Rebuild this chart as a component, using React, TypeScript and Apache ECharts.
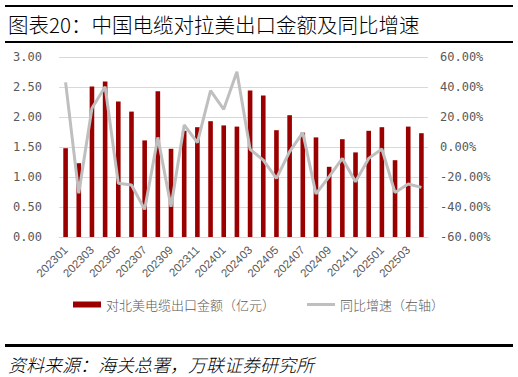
import React, { useEffect, useRef } from "react";
import * as echarts from "echarts";

const categories = [
  "202301","202302","202303","202304","202305","202306","202307","202308","202309","202310","202311","202312",
  "202401","202402","202403","202404","202405","202406","202407","202408","202409","202410","202411","202412",
  "202501","202502","202503","202504",
];
const exportValues = [
  1.48, 1.23, 2.51, 2.59, 2.26, 2.09, 1.61, 2.43, 1.47, 1.77, 1.83, 1.93,
  1.86, 1.84, 2.44, 2.36, 1.78, 2.03, 1.74, 1.66, 1.17, 1.63, 1.41, 1.77,
  1.83, 1.28, 1.84, 1.73,
];
const yoyValues = [
  43.1, -30.9, 25.8, 40.2, -24.2, -25.3, -41.6, 6.4, -39.8, 14.7, 2.9, 37.6,
  25.1, 50.2, -1.5, -8.7, -20.9, -3.1, 9.6, -31.3, -19.8, -7.6, -23.1, -7.6,
  -1.3, -30.4, -24.7, -26.9,
];
const barName = "对北美电缆出口金额（亿元）";
const lineName = "同比增速（右轴）";
const titleText = "图表20：中国电缆对拉美出口金额及同比增速";
const sourceText = "资料来源：海关总署，万联证券研究所";

export default function App() {
  const ref = useRef<HTMLDivElement>(null);
  useEffect(() => {
    if (!ref.current) return;
    const chart = echarts.init(ref.current, null, { renderer: "svg" });
    const labelColor = "#595959";
    chart.setOption({
      animation: false,
      backgroundColor: "#ffffff",
      grid: { left: 59, right: 90, top: 57, bottom: 140, containLabel: false },
      legend: {
        left: 68,
        top: 293,
        itemGap: 32,
        itemWidth: 28,
        itemHeight: 6,
        textStyle: { fontSize: 13, color: labelColor, fontFamily: "Noto Sans CJK SC", fontWeight: 300 },
        data: [
          { name: barName, icon: "rect" },
          { name: lineName, icon: "path://M0 0h28v3h-28z" },
        ],
      },
      xAxis: {
        type: "category",
        data: categories,
        axisTick: { show: false },
        axisLine: { lineStyle: { color: "#d9d9d9" } },
        axisLabel: {
          interval: 1,
          rotate: 45,
          fontSize: 11.5,
          color: labelColor,
          margin: 11,
          fontFamily: "Liberation Sans",
        },
      },
      yAxis: [
        {
          type: "value",
          min: 0,
          max: 3,
          interval: 0.5,
          axisLine: { show: false },
          axisTick: { show: false },
          splitLine: { lineStyle: { color: "#d9d9d9" } },
          axisLabel: {
            formatter: (v: number) => v.toFixed(2),
            fontSize: 12,
            color: labelColor,
            margin: 17,
            fontFamily: "DejaVu Sans Mono",
          },
        },
        {
          type: "value",
          min: -60,
          max: 60,
          interval: 20,
          axisLine: { show: false },
          axisTick: { show: false },
          splitLine: { show: false },
          axisLabel: {
            formatter: (v: number) => v.toFixed(2) + "%",
            fontSize: 12,
            color: labelColor,
            margin: 12,
            fontFamily: "DejaVu Sans Mono",
          },
        },
      ],
      series: [
        {
          name: barName,
          type: "bar",
          data: exportValues,
          barWidth: "35%",
          itemStyle: { color: "#9b0000" },
        },
        {
          name: lineName,
          type: "line",
          yAxisIndex: 1,
          data: yoyValues,
          symbol: "none",
          lineStyle: { color: "#bfbfbf", width: 3 },
          itemStyle: { color: "#bfbfbf" },
        },
      ],
      graphic: [
        { type: "rect", shape: { x: 5, y: 5, width: 508, height: 2 }, style: { fill: "#000" } },
        { type: "rect", shape: { x: 5, y: 41, width: 508, height: 2 }, style: { fill: "#000" } },
        {
          type: "text",
          x: 8,
          y: 24,
          style: {
            text: titleText,
            fontSize: 20.5,
            fontWeight: 300,
            fill: "#000",
            fontFamily: "Noto Sans CJK SC",
            verticalAlign: "middle",
          },
        },
        { type: "rect", shape: { x: 5, y: 344, width: 508, height: 3 }, style: { fill: "#000" } },
        {
          type: "text",
          x: 8,
          y: 364,
          style: {
            text: sourceText,
            fontSize: 18,
            fontWeight: 300,
            fontStyle: "italic",
            fill: "#000",
            fontFamily: "Noto Sans CJK SC",
            verticalAlign: "middle",
          },
        },
      ],
    });
    return () => chart.dispose();
  }, []);
  return (
    <div
      ref={ref}
      style={{ position: "fixed", left: 0, top: 0, width: 518, height: 377 }}
    />
  );
}
